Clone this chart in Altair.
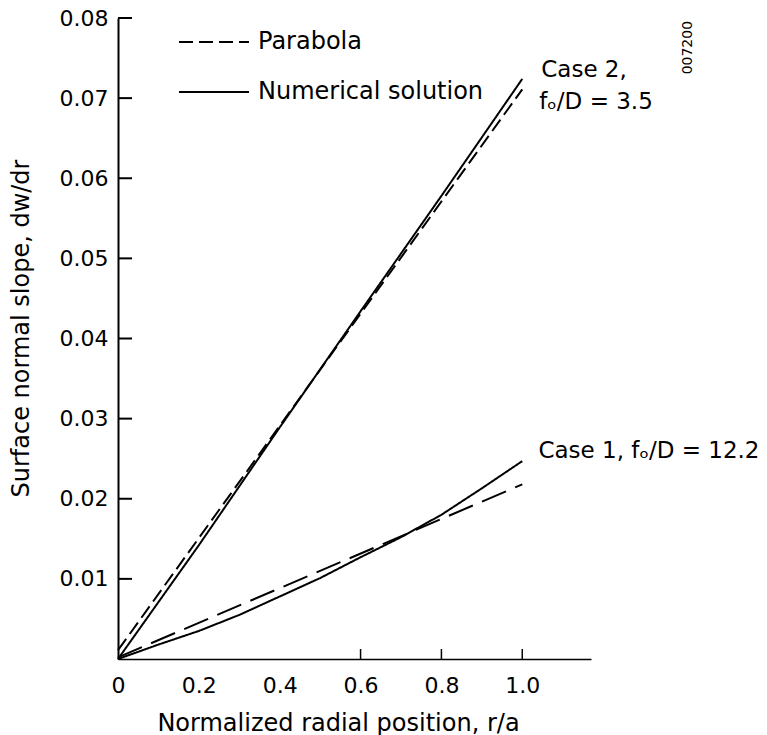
import altair as alt
import pandas as pd

# ---- data ----
r_case2 = [0.0, 0.2, 0.4, 0.6, 0.8, 1.0]
num_case2 = [0.0, 0.0142, 0.0289, 0.0434, 0.0578, 0.0724]
r_par = [0.0, 1.0]
par_case2 = [0.0011, 0.0711]
r_case1 = [0.0, 0.1, 0.2, 0.3, 0.4, 0.5, 0.6, 0.7, 0.8, 0.9, 1.0]
num_case1 = [0.0, 0.0018, 0.0035, 0.0055, 0.0078, 0.0101, 0.0127, 0.0152, 0.0180, 0.0213, 0.0247]
par_case1 = [0.0002, 0.0218]

y_tick_values = [0.01, 0.02, 0.03, 0.04, 0.05, 0.06, 0.07, 0.08]
x_label_values = [0.0, 0.2, 0.4, 0.6, 0.8, 1.0]
x_tick_values = [0.6, 0.8, 1.0]

ann_text = ["Case 2,", "f\u2092/D = 3.5", "Case 1, f\u2092/D = 12.2"]
ann_x = [1.047, 1.042, 1.040]
ann_y = [0.0735, 0.0695, 0.0260]

id_text = ["007200"]
id_x = [1.409]
id_y = [0.0763]

FONT = "DejaVu Sans"
W, H = 473, 641

rows = []
for r, v in zip(r_case2, num_case2):
    rows.append({"r": r, "slope": v, "series": "case2_num", "kind": "Numerical solution"})
for r, v in zip(r_par, par_case2):
    rows.append({"r": r, "slope": v, "series": "case2_par", "kind": "Parabola"})
for r, v in zip(r_case1, num_case1):
    rows.append({"r": r, "slope": v, "series": "case1_num", "kind": "Numerical solution"})
df = pd.DataFrame(rows)
df1p = pd.DataFrame({"r": r_par, "slope": par_case1})

xscale = alt.Scale(domain=[0, 1.17], nice=False, zero=False)
yscale = alt.Scale(domain=[0, 0.08], nice=False, zero=False)

x_axis = alt.Axis(
    values=x_label_values,
    labelExpr="datum.value == 0 ? '0' : format(datum.value, '.1f')",
    title="Normalized radial position, r/a",
    ticks=False, tickSize=0, grid=False,
    domainColor="black", domainWidth=1.5,
    labelFont=FONT, labelFontSize=22, labelColor="black", labelPadding=16,
    labelFlush=False, labelOverlap=False,
    titleFont=FONT, titleFontSize=24, titleFontWeight="normal", titleColor="black",
    titleX=220, titleY=71, titleBaseline="alphabetic", titleAlign="center",
)
y_axis = alt.Axis(
    values=y_tick_values, format=".2f",
    title="Surface normal slope, dw/dr",
    ticks=False, tickSize=0, grid=False,
    domainColor="black", domainWidth=2,
    labelFont=FONT, labelFontSize=22, labelColor="black", labelPadding=10,
    labelFlush=False, labelOverlap=False, labelBaseline="middle",
    titleFont=FONT, titleFontSize=24, titleFontWeight="normal", titleColor="black",
    titleX=-97, titleY=310, titleAngle=270, titleBaseline="middle", titleAlign="center",
)

def X(field):
    return alt.X(field, scale=xscale, axis=x_axis)

def Y(field):
    return alt.Y(field, scale=yscale, axis=y_axis)

lines = alt.Chart(df).mark_line(color="black", strokeWidth=2).encode(
    x=X("r:Q"),
    y=Y("slope:Q"),
    detail="series:N",
    order="r:Q",
    strokeDash=alt.StrokeDash(
        "kind:N",
        scale=alt.Scale(domain=["Parabola", "Numerical solution"], range=[[14, 6], [1, 0]]),
        legend=alt.Legend(
            title=None, orient="none", legendX=60, legendY=-12,
            symbolType="stroke", symbolSize=4900, symbolStrokeWidth=2,
            symbolStrokeColor="black", labelFont=FONT, labelFontSize=24,
            labelColor="black", labelOffset=8, labelLimit=0,
        ),
    ),
)

case1_par = alt.Chart(df1p).mark_line(color="black", strokeWidth=2, strokeDash=[26, 10]).encode(
    x=X("r:Q"),
    y=Y("slope:Q"),
)

ytick_df = pd.DataFrame({"v": y_tick_values})
yticks = alt.Chart(ytick_df).mark_rule(color="black", strokeWidth=2).encode(
    y=Y("v:Q"),
    x=alt.value(0), x2=alt.value(14),
)
xtick_df = pd.DataFrame({"v": x_tick_values})
xticks = alt.Chart(xtick_df).mark_rule(color="black", strokeWidth=1.5).encode(
    x=X("v:Q"),
    y=alt.value(H), y2=alt.value(H - 10),
)

ann_df = pd.DataFrame({"t": ann_text, "x": ann_x, "y": ann_y})
ann = alt.Chart(ann_df).mark_text(
    align="left", baseline="middle", font=FONT, fontSize=23, color="black"
).encode(
    x=X("x:Q"),
    y=Y("y:Q"),
    text="t:N",
)

id_df = pd.DataFrame({"t": id_text, "x": id_x, "y": id_y})
idlab = alt.Chart(id_df).mark_text(
    align="center", baseline="middle", font=FONT, fontSize=14, color="black", angle=270
).encode(
    x=X("x:Q"),
    y=Y("y:Q"),
    text="t:N",
)

chart = alt.layer(lines, case1_par, yticks, xticks, ann, idlab).properties(
    width=W, height=H,
    autosize=alt.AutoSizeParams(type="none"),
    padding={"left": 118, "top": 18, "right": 176, "bottom": 76},
    background="white",
).configure_view(stroke=None)

chart.save("out.html", embed_options={"renderer": "svg", "actions": False})
